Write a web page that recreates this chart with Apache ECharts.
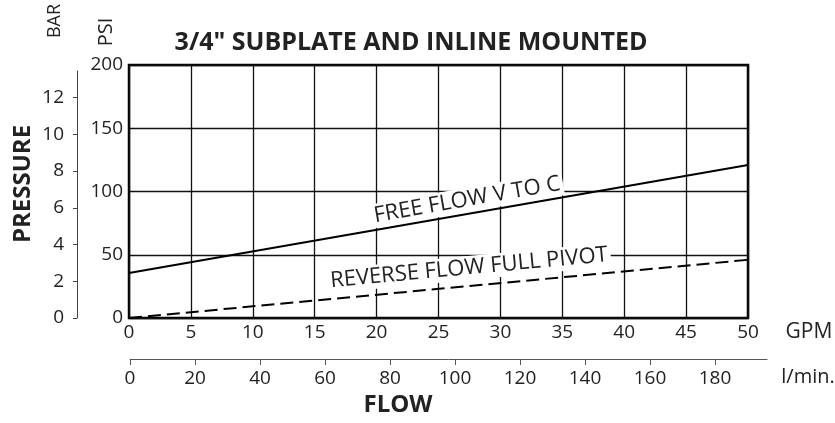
<!DOCTYPE html>
<html>
<head>
<meta charset="utf-8">
<script src="https://cdn.jsdelivr.net/npm/echarts@6/dist/echarts.min.js"></script>
<style>
  html, body { margin: 0; padding: 0; background: #fff; }
  #chart { width: 835px; height: 423px; }
</style>
</head>
<body>
<div id="chart"></div>
<script>
// Pressure drop vs. flow for the 3/4" subplate / inline valve
const flowGpm = [0, 50];
const freeFlowPsi = [35.5, 121];
const reverseFlowPsi = [0, 46];

const gpmTicks = [0, 5, 10, 15, 20, 25, 30, 35, 40, 45, 50];
const psiTicks = [0, 50, 100, 150, 200];
const barTicks = [0, 2, 4, 6, 8, 10, 12];
const lpmTicks = [0, 20, 40, 60, 80, 100, 120, 140, 160, 180];

const FONT = '"Open Sans", "DejaVu Sans", sans-serif';
const INK = '#222';

const chart = echarts.init(document.getElementById('chart'), null, { renderer: 'canvas' });

const pairs = (xs, ys) => xs.map((x, i) => [x, ys[i]]);

chart.setOption({
  animation: false,
  backgroundColor: '#fff',
  grid: [
    { left: 129, top: 65, width: 619, height: 253, show: true, borderColor: '#000', borderWidth: 2.5, backgroundColor: 'transparent' },
    { left: 77, top: 71, width: 1, height: 247 },
    { left: 130, top: 358, width: 637, height: 1 }
  ],
  xAxis: [
    {
      gridIndex: 0, type: 'value', min: gpmTicks[0], max: gpmTicks[gpmTicks.length - 1], interval: 5,
      axisLine: { show: false }, axisTick: { show: false },
      axisLabel: { fontFamily: FONT, fontSize: 19, color: INK, margin: 5 },
      splitLine: { show: true, lineStyle: { color: '#111', width: 1.3 } }
    },
    { gridIndex: 1, type: 'value', show: false, min: 0, max: 1 },
    {
      gridIndex: 2, type: 'value', position: 'bottom', min: 0, max: 196,
      axisLine: { show: true, lineStyle: { color: '#555', width: 1 } },
      axisTick: { show: true, length: 6, lineStyle: { color: '#555', width: 1 }, customValues: lpmTicks },
      axisLabel: { fontFamily: FONT, fontSize: 19, color: INK, margin: 10, customValues: lpmTicks },
      splitLine: { show: false }
    }
  ],
  yAxis: [
    {
      gridIndex: 0, type: 'value', min: psiTicks[0], max: psiTicks[psiTicks.length - 1], interval: 50,
      axisLine: { show: false }, axisTick: { show: false },
      axisLabel: { fontFamily: FONT, fontSize: 19, color: INK, margin: 6 },
      splitLine: { show: true, lineStyle: { color: '#111', width: 1.3 } }
    },
    {
      gridIndex: 1, type: 'value', position: 'left', min: 0, max: 13.45,
      axisLine: { show: true, lineStyle: { color: '#444', width: 1 } },
      axisTick: { show: true, length: 4, lineStyle: { color: '#444', width: 1 }, customValues: barTicks },
      axisLabel: { fontFamily: FONT, fontSize: 19, color: INK, margin: 13, customValues: barTicks },
      splitLine: { show: false }
    },
    { gridIndex: 2, type: 'value', show: false, min: 0, max: 1 }
  ],
  series: [
    {
      name: 'FREE FLOW V TO C', type: 'line', xAxisIndex: 0, yAxisIndex: 0,
      data: pairs(flowGpm, freeFlowPsi), symbol: 'none', z: 3,
      lineStyle: { color: '#000', width: 2 }
    },
    {
      name: 'REVERSE FLOW FULL PIVOT', type: 'line', xAxisIndex: 0, yAxisIndex: 0,
      data: pairs(flowGpm, reverseFlowPsi), symbol: 'none', z: 3,
      lineStyle: { color: '#000', width: 2, type: [13, 6] }
    }
  ]
});

// Label laid along a line, lifted off it along the normal
function lineLabel(text, ys, atGpm, lift, size) {
  const p0 = chart.convertToPixel({ gridIndex: 0 }, [flowGpm[0], ys[0]]);
  const p1 = chart.convertToPixel({ gridIndex: 0 }, [flowGpm[1], ys[1]]);
  const t = (atGpm - flowGpm[0]) / (flowGpm[1] - flowGpm[0]);
  const cx = p0[0] + (p1[0] - p0[0]) * t;
  const cy = p0[1] + (p1[1] - p0[1]) * t;
  const ang = Math.atan2(p0[1] - p1[1], p1[0] - p0[0]);
  return {
    type: 'text', z: 1,
    x: cx - Math.sin(ang) * lift,
    y: cy - Math.cos(ang) * lift,
    rotation: ang,
    style: {
      text: text, fontFamily: FONT, fontSize: size, fill: INK,
      align: 'center', verticalAlign: 'middle',
      backgroundColor: '#fff', padding: [1, 3]
    }
  };
}

function plain(text, x, y, size, bold, rot) {
  return {
    type: 'text', x: x, y: y, rotation: rot || 0, z: 5,
    style: {
      text: text, fontFamily: FONT, fontSize: size, fontWeight: bold ? 'bold' : 'normal',
      fill: INK, align: 'center', verticalAlign: 'middle'
    }
  };
}

chart.setOption({
  graphic: [
    plain('3/4" SUBPLATE AND INLINE MOUNTED', 411, 43, 25, true),
    plain('BAR', 55, 21, 18, false, Math.PI / 2),
    plain('PSI', 106, 32, 20, false, Math.PI / 2),
    plain('PRESSURE', 23, 184, 24, true, Math.PI / 2),
    plain('FLOW', 398, 405, 24, true),
    plain('GPM', 809, 332, 21, false),
    plain('l/min.', 808, 377, 20, false),
    lineLabel('FREE FLOW V TO C', freeFlowPsi, 27.5, 14, 22),
    lineLabel('REVERSE FLOW FULL PIVOT', reverseFlowPsi, 27.6, 18, 22)
  ]
});
</script>
</body>
</html>
